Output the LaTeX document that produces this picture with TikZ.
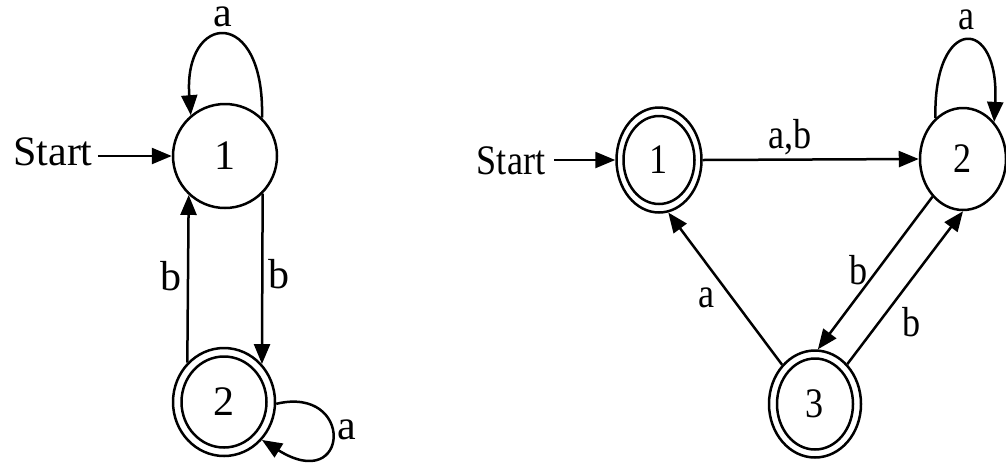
\documentclass[tikz,border=0pt]{standalone}
\usepackage{fontspec}
\usepackage{graphicx}
\setmainfont{Liberation Serif}
\usetikzlibrary{arrows.meta,shapes.geometric}
\newcommand\nx[1]{\scalebox{0.86}[1]{#1}}
\begin{document}
\begin{tikzpicture}[x=1pt,y=-1pt,
  every node/.style={font=\fontsize{42}{48}\selectfont},
  st/.style={draw, ellipse, line width=2.5pt, inner sep=0pt},
  lbl/.style={inner sep=0pt},
  edge/.style={line width=2.5pt, -{Triangle[length=20pt,width=16pt]}},
]
\useasboundingbox (0,0) rectangle (1006,467);

% ---------- left automaton ----------
\node[st, minimum width=104pt, minimum height=104pt] (L1) at (225,156) {1};
\node[st, minimum width=102pt, minimum height=108pt] (L2) at (224,402) {};
\node[st, minimum width=85pt, minimum height=91pt] (L2i) at (224,402) {2};
\node[lbl, inner xsep=5pt] (Ls) at (53,152) {Start};

\draw[edge] (Ls.east |- L1.west) -- (L1.west);
\draw[edge] (L1.46) .. controls (265,5) and (183,12) .. (L1.130);
\draw[edge] (L1.-45) -- (L2.45);
\draw[edge] (L2.133) -- (L1.227);
\draw[edge] (L2.-2) .. controls (355,385) and (350,495) .. (L2.-45);

\node[lbl] (la1) at (223,17) {a};
\node[lbl] (lb1) at (171,276) {b};
\node[lbl] (lb2) at (279,274) {b};
\node[lbl] (la2) at (347,430) {a};

% ---------- right automaton ----------
\node[st, minimum width=85pt, minimum height=105pt] (R1) at (659,160) {};
\node[st, minimum width=71pt, minimum height=88pt] (R1i) at (659,160) {\nx{1}};
\node[st, minimum width=86pt, minimum height=102pt] (R2) at (963,159) {\nx{2}};
\node[st, minimum width=92pt, minimum height=107pt] (R3) at (815,404) {};
\node[st, minimum width=76pt, minimum height=91pt] (R3i) at (815,404) {\nx{3}};
\node[lbl, inner xsep=9pt] (Rs) at (511,161) {\nx{Start}};

\draw[edge] (Rs.east |- R1.west) -- (R1.west);
\draw[edge] (R1.east) -- (R2.west);
\draw[edge] (R2.124) .. controls (933,15) and (1000,15) .. (R2.50);
\draw[edge] (R2.231) -- (R3.87);
\draw[edge] (R3.51) -- (R2.270);
\draw[edge] (R3.130) -- (R1.280);

\node[lbl] (rab) at (790,137) {\nx{a,b}};
\node[lbl] (ra1) at (967,20) {\nx{a}};
\node[lbl] (rb1) at (859,270) {\nx{b}};
\node[lbl] (ra2) at (707,298) {\nx{a}};
\node[lbl] (rb2) at (912,322) {\nx{b}};
\end{tikzpicture}
\end{document}
